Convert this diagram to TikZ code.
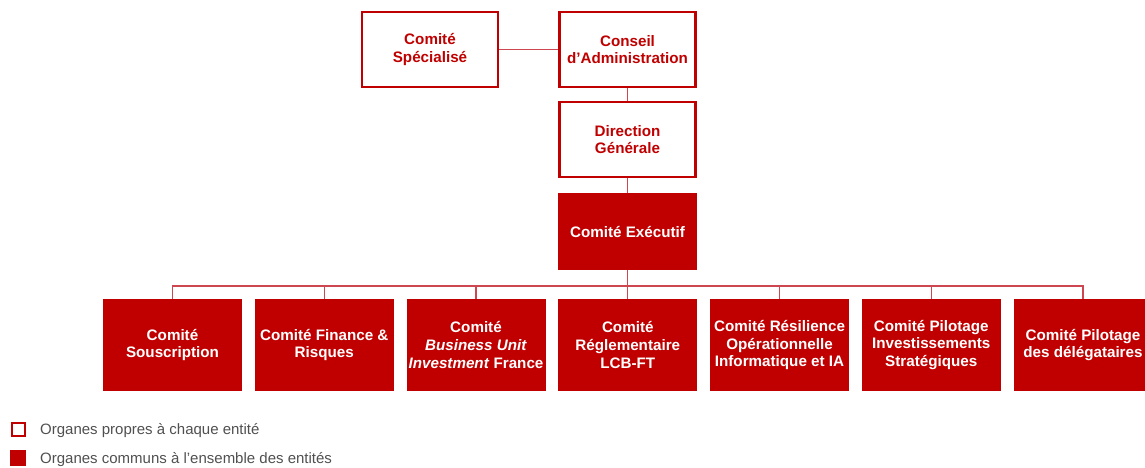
\documentclass[tikz,border=0pt]{standalone}
\usepackage{fontspec}
\setmainfont{Liberation Sans}
\definecolor{cred}{RGB}{192,0,0}
\definecolor{cline}{RGB}{205,70,80}
\definecolor{cgrey}{RGB}{80,80,80}
\begin{document}
\begin{tikzpicture}[x=1pt,y=-1pt,
  boxfont/.style={font=\bfseries\fontsize{15.2}{17.6}\selectfont},
  ownbox/.style={boxfont, draw=cred, line width=2.4pt, fill=white, text=cred, align=center,
    minimum width=136pt, minimum height=75pt, inner sep=0pt},
  topcommon/.style={boxfont, fill=cred, text=white, align=center,
    minimum width=139pt, minimum height=77pt, inner sep=0pt},
  common/.style={boxfont, fill=cred, text=white, align=center,
    minimum width=139pt, minimum height=92pt, inner sep=0pt},
  conn/.style={draw=cline, line width=1.4pt},
  legtext/.style={text=cgrey, font=\fontsize{15}{17}\selectfont, anchor=west, inner sep=0pt}
]
\useasboundingbox (0,0) rectangle (1145,468);
% top boxes
\node[ownbox] (spec) at (430,49.5) {Comité\\Spécialisé};
\node[ownbox] (ca) at (627.5,49.5) {Conseil\\d’Administration};
\node[ownbox] (dg) at (627.5,139.5) {Direction\\Générale};
\node[topcommon] (ce) at (627.5,231.5) {Comité Exécutif};
\draw[conn] (spec.east) -- (ca.west);
\draw[conn] (ca.south) -- (dg.north);
\draw[conn] (dg.south) -- (ce.north);
% bottom row
\node[common] (b1) at (172.5,345) {Comité\\Souscription};
\node[common] (b2) at (324.25,345) {Comité Finance \&\\Risques};
\node[common] (b3) at (476,345) {Comité\\\textit{Business Unit}\\\textit{Investment} France};
\node[common] (b4) at (627.75,345) {Comité\\Réglementaire\\LCB-FT};
\node[common] (b5) at (779.5,345) {Comité Résilience\\Opérationnelle\\Informatique et IA};
\node[common] (b6) at (931.25,345) {Comité Pilotage\\Investissements\\Stratégiques};
\node[common] (b7) at (1083,345) {Comité Pilotage\\des délégataires};
\coordinate (bus) at (0,286);
\foreach \i in {1,...,7}{
  \draw[conn] (ce.south) -- (ce.south |- bus) -| (b\i.north);
}
% legend
\node[draw=cred, line width=2pt, fill=white, minimum size=13pt, inner sep=0pt] (lo) at (18,429.5) {};
\node[fill=cred, minimum size=16pt, inner sep=0pt] (lc) at (18,458) {};
\node[legtext] (lt1) at (40,431) {Organes propres à chaque entité};
\node[legtext] (lt2) at (40,460) {Organes communs à l’ensemble des entités};
\end{tikzpicture}
\end{document}
